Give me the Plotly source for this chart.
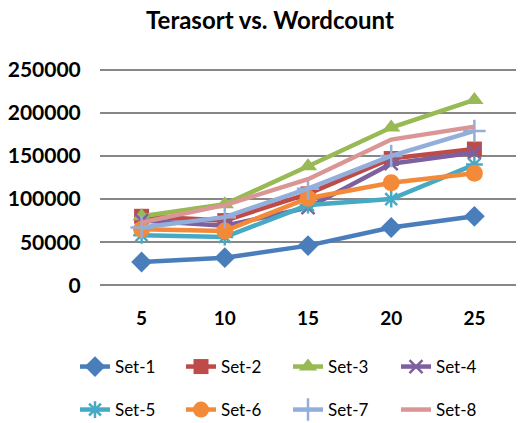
import plotly.graph_objects as go

categories = ["5", "10", "15", "20", "25"]
series_names = ["Set-1", "Set-2", "Set-3", "Set-4", "Set-5", "Set-6", "Set-7", "Set-8"]
set1 = [27000, 32000, 46000, 67000, 80000]
set2 = [80000, 75000, 106000, 147000, 158000]
set3 = [80000, 94000, 138000, 183000, 215000]
set4 = [75000, 69000, 90000, 141000, 154000]
set5 = [58000, 56000, 93000, 100000, 140000]
set6 = [65000, 63000, 101000, 119000, 130000]
set7 = [67000, 79000, 112000, 150000, 179000]
set8 = [73000, 93000, 123000, 169000, 184000]
y_ticks = [0, 50000, 100000, 150000, 200000, 250000]

values = [set1, set2, set3, set4, set5, set6, set7, set8]
colors = ["#4A7EBB", "#BE4B48", "#98B954", "#7D60A0", "#46AAC5", "#F38A3A", "#93AEDA", "#DA9694"]
symbols = ["diamond", "square", "triangle-up", "x-thin", "asterisk", "circle", "cross-thin", None]
sizes = [16, 15, 16, 13, 14, 17, 16, 0]

# The page body has an 8px default margin, so the figure is drawn 8px in from the window edge.
OFF = 8
W, H = 530 - OFF, 423 - OFF

# legend text left edges and row centres, in window pixels
legend_text_x = [117, 223, 330, 438, 117, 223, 330, 438]
legend_row_y = [367, 367, 367, 367, 410, 410, 410, 410]

fig = go.Figure()
layout_legends = {}
for i, (name, vals) in enumerate(zip(series_names, values)):
    sym = symbols[i]
    thin = sym in ("x-thin", "asterisk", "cross-thin")
    marker = dict(color=colors[i], size=sizes[i],
                  line=dict(color=colors[i], width=2.5 if thin else 0))
    if sym is not None:
        marker["symbol"] = sym
    lg = "legend" if i == 0 else f"legend{i + 1}"
    fig.add_trace(go.Scatter(
        x=categories, y=vals, name=name,
        mode="lines+markers" if sym else "lines",
        line=dict(color=colors[i], width=4.5),
        marker=marker,
        legend=lg,
    ))
    layout_legends[lg] = dict(
        orientation="h", xref="container", yref="container",
        x=(legend_text_x[i] - 42 - OFF) / W, xanchor="left",
        y=1 - (legend_row_y[i] - OFF) / H, yanchor="middle",
        font=dict(size=17, family="Lato", color="#000000"),
        bgcolor="rgba(0,0,0,0)",
    )

fig.update_layout(
    width=W, height=H,
    margin=dict(l=100 - OFF, r=14, t=68 - OFF, b=136, autoexpand=False),
    paper_bgcolor="white", plot_bgcolor="white",
    title=dict(text="<b>Terasort vs. Wordcount</b>", x=(270 - OFF) / W, xanchor="center",
               y=1 - 4 / H, yanchor="top",
               font=dict(family="Lato", size=24, color="#000000")),
    font=dict(family="Lato", color="#000000"),
    showlegend=True,
    **layout_legends,
)
fig.update_xaxes(type="category", range=[-0.5, 4.5], showgrid=False, zeroline=False,
                 showline=False, ticks="outside", ticklen=14, tickcolor="rgba(0,0,0,0)",
                 tickfont=dict(family="Lato", size=19, color="#000000", weight="bold"))
fig.update_yaxes(range=[-2000, 252000], tickvals=y_ticks, showgrid=True, gridcolor="#878787",
                 gridwidth=2, zeroline=False, showline=False, ticks="outside", ticklen=14,
                 tickcolor="rgba(0,0,0,0)", tickformat="d",
                 tickfont=dict(family="Lato", size=21, color="#000000", weight="bold"))

fig.write_html("out.html", config={"displayModeBar": False})
